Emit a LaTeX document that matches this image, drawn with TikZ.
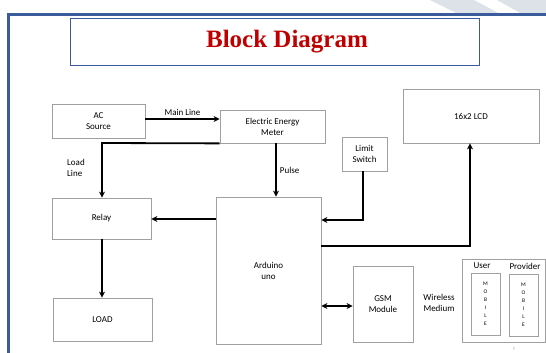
\documentclass[tikz,border=0pt]{standalone}
\usepackage{fontspec}
\setmainfont{Carlito}
\newfontfamily\titlefont{Liberation Serif}
\usetikzlibrary{arrows.meta}
\definecolor{frameblue}{HTML}{3B5C9C}
\definecolor{titlered}{HTML}{C00000}
\definecolor{boxgrey}{HTML}{A0A0A0}
\definecolor{stripe}{HTML}{DCE2E8}
\tikzset{
  blk/.style={draw=boxgrey, line width=0.8pt, fill=white, align=center, font=\fontsize{9}{11}\selectfont, inner sep=0pt},
  conn/.style={line width=1.8pt, -{Stealth[length=6pt,width=6pt]}},
  lbl/.style={font=\fontsize{9}{11}\selectfont, align=center, inner sep=0pt},
  mob/.style={font=\fontsize{5.5}{8}\selectfont, align=center, inner sep=0pt}
}
\begin{document}
\begin{tikzpicture}[x=1pt,y=-1pt]
\useasboundingbox (0,0) rectangle (546,353);
\fill[white] (0,0) rectangle (546,353);
% stripes
\fill[stripe] (430,0) -- (474,0) -- (500,14) -- (458,14) -- cycle;
\fill[stripe] (497,0) -- (546,0) -- (546,14) -- (522,14) -- cycle;
% frame
\draw[frameblue, line width=3pt] (8.5,360) -- (8.5,14.5) -- (560,14.5);
% title
\node[draw=frameblue, line width=1pt, minimum width=409, minimum height=47, inner sep=0pt] (title) at (274.5,42.5) {};
\node[font=\titlefont\fontsize{25}{28}\selectfont\bfseries, text=titlered] (tt) at (287,42) {Block Diagram};
% boxes
\node[blk, minimum width=93, minimum height=34] (ac) at (98.5,121) {AC\\Source};
\node[blk, minimum width=105, minimum height=33] (eem) at (272.5,126.5) {Electric Energy\\Meter};
\node[blk, minimum width=99, minimum height=41] (relay) at (101.5,218.5) {Relay};
\node[blk, minimum width=99, minimum height=43] (load) at (102.5,319.5) {LOAD};
\node[blk, minimum width=105, minimum height=147] (ard) at (268.5,270.5) {Arduino\\uno};
\node[blk, minimum width=60, minimum height=76] (gsm) at (383,304) {GSM\\Module};
\node[blk, minimum width=136, minimum height=54] (lcd) at (471,116) {16x2 LCD};
\node[blk, minimum width=45, minimum height=34] (ls) at (364.5,154) {Limit\\Switch};
\node[lbl] (wm) at (439,303) {Wireless\\Medium};
\node[blk, minimum width=83, minimum height=83] (mobo) at (503.5,300.5) {};
\node[lbl] (user) at (482,266) {User};
\node[lbl] (prov) at (525,266) {Provider};
\node[blk, minimum width=29, minimum height=62] (mu) at (485.5,304) {};
\node[blk, minimum width=29, minimum height=62] (mp) at (523.5,305) {};
\node[mob] (mut) at (mu) {M\\O\\B\\I\\L\\E};
\node[mob] (mpt) at (mp) {M\\O\\B\\I\\L\\E};
\node[font=\fontsize{4}{5}\selectfont, text=gray, inner sep=0pt] (pg) at (514,349) {7};
% connectors
\draw[conn] (ac.east |- 0,119) -- (eem.west |- 0,119) node[lbl, midway, above=3pt] (ml) {Main Line};
\draw[conn] (eem.south west) -- (102,143) -- (relay.north -| 102,0);
\node[lbl, anchor=west, align=left] (ll) at (67,168) {Load\\Line};
\draw[conn] (eem.south -| 276,0) -- (ard.north -| 276,0) node[lbl, midway, right=3pt] (pl) {Pulse};
\draw[conn] (ls.south -| 363,0) -- (363,220) -- (ard.east |- 0,220);
\draw[conn] (ard.west |- 0,219) -- (relay.east |- 0,219);
\draw[conn] (ard.east |- 0,246) -- (470,246) -- (lcd.south -| 470,0);
\draw[conn] (relay.south -| 102,0) -- (load.north -| 102,0);
\draw[line width=1.8pt, {Stealth[length=6pt,width=6pt]}-{Stealth[length=6pt,width=6pt]}] (ard.east |- 0,306) -- (gsm.west |- 0,306);
\end{tikzpicture}
\end{document}
